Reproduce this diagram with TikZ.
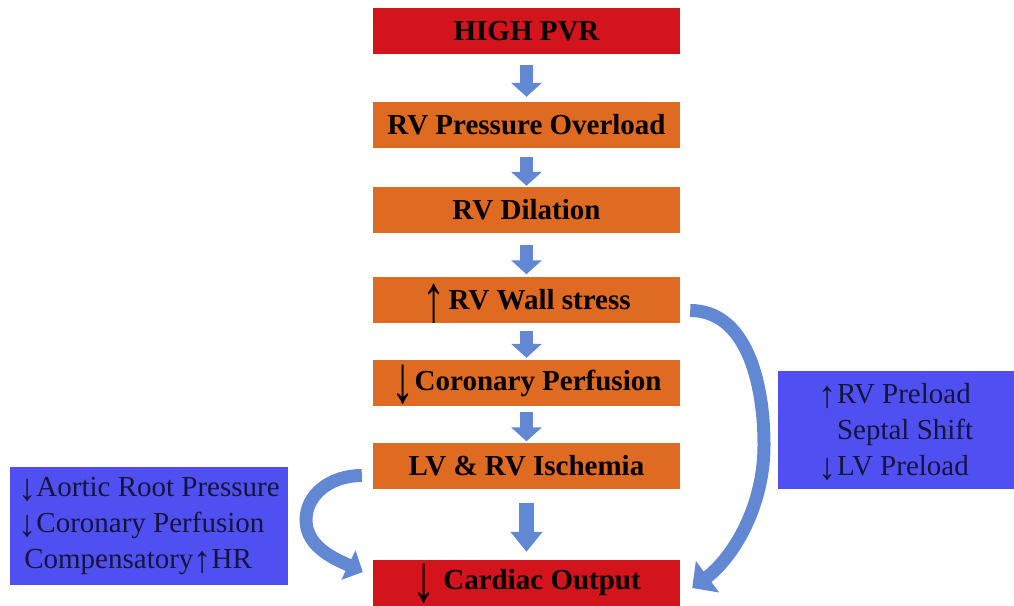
\documentclass[tikz,border=0pt]{standalone}
\usepackage{amsmath}
\usepackage{graphicx}
\usepackage{fontspec}
\setmainfont{Liberation Serif}
\usepackage{tikz}
\usetikzlibrary{arrows.meta}
\definecolor{pvrred}{RGB}{211,20,28}
\definecolor{stageorange}{RGB}{223,106,34}
\definecolor{noteblue}{RGB}{80,80,242}
\definecolor{notetext}{RGB}{20,20,60}
\definecolor{flowblue}{RGB}{98,136,212}
\newcommand{\stagefont}{\fontsize{29}{34}\selectfont\bfseries}
\newcommand{\notefont}{\fontsize{29}{36}\selectfont}
\newcommand{\tallup}{\smash{\raisebox{-12pt}{\scalebox{1.6}[2.3]{↑}}}}
\newcommand{\talldown}{\smash{\raisebox{-12pt}{\scalebox{1.6}[2.3]{↓}}}}
\newcommand{\noteup}{\smash{\raisebox{-4pt}{\scalebox{1.25}[1.3]{\bfseries↑}}}}
\newcommand{\notedown}{\smash{\raisebox{-4pt}{\scalebox{1.25}[1.3]{\bfseries↓}}}}

\begin{document}
\begin{tikzpicture}[x=1pt,y=-1pt,node distance=85pt,
	stage/.style={fill=stageorange,minimum width=307pt,minimum height=46pt,inner sep=0pt,font=\stagefont},
	alarm/.style={stage,fill=pvrred},
	note/.style={fill=noteblue,inner sep=2pt,align=left,font=\notefont,text=notetext},
	flow/.style={color=flowblue,line width=13pt,-{Triangle[length=14pt,width=30pt]}},
	swing/.style={color=flowblue,line width=13pt,-{Triangle[length=19pt,width=38pt]}}]
	\useasboundingbox (0,0) rectangle (1014,605);
	% main chain
	\node[alarm] (pvr) at (526.5,31) {HIGH PVR};
	\node[stage] (press) [node distance=94pt, below of = pvr] {RV Pressure Overload};
	\node[stage] (dil) [below of = press] {RV Dilation};
	\node[stage] (wall) [node distance=89.5pt, below of = dil] {\tallup\hspace{3pt}RV Wall stress};
	\node[stage] (cor) [node distance=83.5pt, below of = wall] {\talldown Coronary Perfusion};
	\node[stage] (isch) [node distance=82.5pt, below of = cor] {LV \& RV Ischemia};
	\node[alarm] (out) [node distance=117.5pt, below of = isch] {\talldown\hspace{8pt}Cardiac Output};
	% side notes
	\node[note, minimum width=278pt, minimum height=118pt] (aortic) at (149,526)
		{\notedown Aortic Root Pressure\\ \notedown Coronary Perfusion\\ \hspace{6pt}Compensatory\noteup HR};
	\node[note, minimum width=236pt, minimum height=118pt] (preload) at (896,430)
		{\noteup RV Preload\\ \phantom{\noteup}Septal Shift\\ \notedown LV Preload};
	\path[flow]	(pvr) edge [shorten <=11pt, shorten >=5pt] (press)
			(press) edge [shorten <=9pt, shorten >=1pt] (dil)
			(dil) edge [shorten <=12pt, shorten >=2pt] (wall)
			(wall) edge [shorten <=8pt, shorten >=2pt] (cor)
			(cor) edge [shorten <=6pt, shorten >=1pt] (isch)
			(isch) edge [line width=15pt, -{Triangle[length=20pt,width=31pt]}, shorten <=14pt, shorten >=8pt] (out);
	% curved side arrows
	\draw[swing] ([xshift=10pt,yshift=-11pt]wall.east) .. controls +(55,0) and +(0,-65) .. (764,445)
		.. controls +(0,65) and +(38,-28) .. ([xshift=12pt,yshift=-5pt]out.east);
	\draw[swing, -{Triangle[length=16pt,width=32pt]}] ([xshift=-11pt,yshift=-10pt]isch.west) .. controls +(-32,0) and +(0,-25) .. (306,520)
		.. controls +(0,28) and +(-25,-12) .. ([xshift=-10pt,yshift=11pt]out.west);
\end{tikzpicture}
\end{document}
